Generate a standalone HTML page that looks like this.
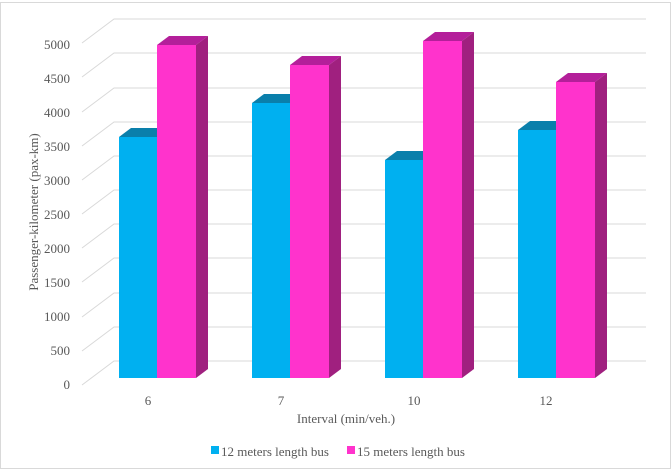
<!DOCTYPE html><html><head><style>body{margin:0;background:#fff}svg{display:block}</style></head><body>
<svg width="671" height="472" xmlns="http://www.w3.org/2000/svg" font-family="Liberation Serif, serif" fill="#595959">
<rect x="0.5" y="2.5" width="670" height="466" fill="#fff" stroke="#d9d9d9"/>
<g stroke="#d9d9d9" stroke-width="1" fill="none">
<path d="M82 385 L114 361 H646"/>
<path d="M82 351 L114 327 H646"/>
<path d="M82 317 L114 293 H646"/>
<path d="M82 282 L114 258 H646"/>
<path d="M82 248 L114 224 H646"/>
<path d="M82 214 L114 190 H646"/>
<path d="M82 180 L114 156 H646"/>
<path d="M82 146 L114 122 H646"/>
<path d="M82 112 L114 88 H646"/>
<path d="M82 77 L114 53 H646"/>
<path d="M82 43 L114 19 H646"/>
</g>
<g font-size="13" text-anchor="end">
<text x="70" y="389">0</text><text x="70" y="355">500</text><text x="70" y="321">1000</text><text x="70" y="287">1500</text><text x="70" y="253">2000</text><text x="70" y="219">2500</text><text x="70" y="185">3000</text><text x="70" y="151">3500</text><text x="70" y="117">4000</text><text x="70" y="83">4500</text><text x="70" y="49">5000</text>
</g>
<text transform="translate(38,212) rotate(-90)" font-size="13" text-anchor="middle">Passenger-kilometer (pax-km)</text>
<g>
<path d="M119 137 L131 128 H169 L157 137Z" fill="#0a7fab"/><rect x="119" y="137" width="38" height="241" fill="#00b0f0"/>
<path d="M157 45 L169 36 H208 L196 45Z" fill="#b41f9a"/><path d="M196 45 L208 36 V369 L196 378Z" fill="#a0207f"/><rect x="157" y="45" width="39" height="333" fill="#ff33cc"/>
</g>
<g>
<path d="M252 103 L264 94 H302 L290 103Z" fill="#0a7fab"/><rect x="252" y="103" width="38" height="275" fill="#00b0f0"/>
<path d="M290 65 L302 56 H341 L329 65Z" fill="#b41f9a"/><path d="M329 65 L341 56 V369 L329 378Z" fill="#a0207f"/><rect x="290" y="65" width="39" height="313" fill="#ff33cc"/>
</g>
<g>
<path d="M385 160 L397 151 H435 L423 160Z" fill="#0a7fab"/><rect x="385" y="160" width="38" height="218" fill="#00b0f0"/>
<path d="M423 41 L435 32 H474 L462 41Z" fill="#b41f9a"/><path d="M462 41 L474 32 V369 L462 378Z" fill="#a0207f"/><rect x="423" y="41" width="39" height="337" fill="#ff33cc"/>
</g>
<g>
<path d="M518 130 L530 121 H568 L556 130Z" fill="#0a7fab"/><rect x="518" y="130" width="38" height="248" fill="#00b0f0"/>
<path d="M556 82 L568 73 H607 L595 82Z" fill="#b41f9a"/><path d="M595 82 L607 73 V369 L595 378Z" fill="#a0207f"/><rect x="556" y="82" width="39" height="296" fill="#ff33cc"/>
</g>
<g font-size="13" text-anchor="middle">
<text x="148" y="405">6</text><text x="281" y="405">7</text><text x="414" y="405">10</text><text x="546" y="405">12</text>
<text x="346" y="423">Interval (min/veh.)</text>
</g>
<g font-size="13">
<rect x="211" y="446" width="8" height="8" fill="#00b0f0"/><text x="221" y="456">12 meters length bus</text>
<rect x="347" y="446" width="8" height="8" fill="#ff33cc"/><text x="357" y="456">15 meters length bus</text>
</g>
</svg></body></html>
